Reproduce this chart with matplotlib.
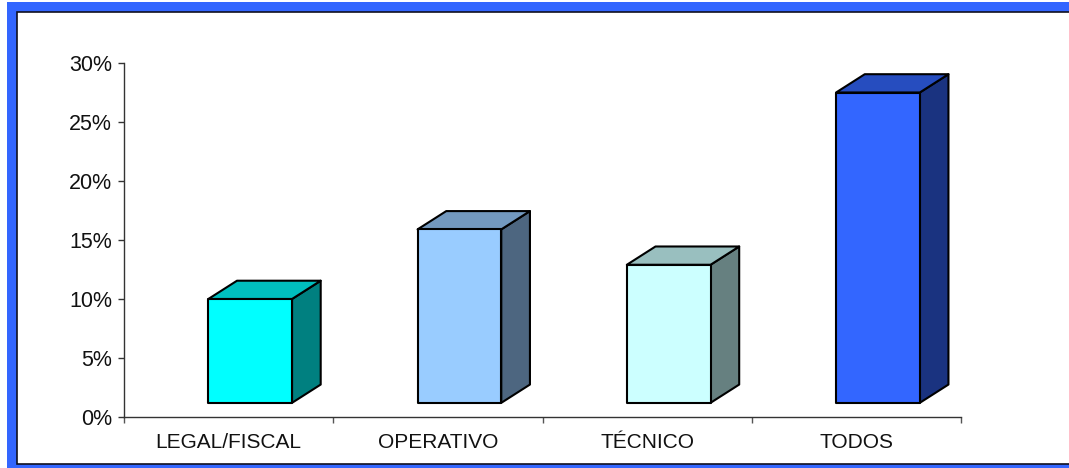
import matplotlib
matplotlib.use("Agg")
import matplotlib.pyplot as plt
from matplotlib.patches import Polygon, Rectangle

categories = ["LEGAL/FISCAL", "OPERATIVO", "TÉCNICO", "TODOS"]
values = [10.0, 15.9, 12.9, 27.5]
front_colors = ["#00FFFF", "#99CCFF", "#CCFFFF", "#3366FF"]
y_ticks = [0, 5, 10, 15, 20, 25, 30]

W, H = 1069, 468
FRAME_BLUE = "#3366FF"
BASE = 1.2          # the 3D floor sits a little above the axis
BAR_WIDTH = 0.4
BAR_SHIFT = 0.103
DEPTH_X = 0.137
DEPTH_Y = 1.55


def shade(color, k):
    rgb = matplotlib.colors.to_rgb(color)
    return tuple(c * k for c in rgb)


plt.rcParams["font.family"] = ["Liberation Sans", "DejaVu Sans"]

fig = plt.figure(figsize=(W / 100, H / 100), dpi=100, facecolor="white")

# blue frame, in pixels from the top left
bg = fig.add_axes([0, 0, 1, 1], zorder=0)
bg.set_xlim(0, W)
bg.set_ylim(H, 0)
bg.axis("off")
bg.add_patch(Rectangle((7, 2), W, H, fc=FRAME_BLUE, ec="none"))
# white panel runs off the right edge, the reference has no band there
bg.add_patch(Rectangle((17, 11.5), W, 452, fc="white", ec="#101020", lw=1.2))

# plot area: x 124-961, y 63-417 px
ax = fig.add_axes([124 / W, 1 - 417 / H, (961 - 124) / W, (417 - 63) / H], zorder=1)
ax.patch.set_alpha(0)
ax.set_xlim(-0.5, len(categories) - 0.5)
ax.set_ylim(0, 30)

for i, (val, col) in enumerate(zip(values, front_colors)):
    x0 = i + BAR_SHIFT - BAR_WIDTH / 2
    x1 = i + BAR_SHIFT + BAR_WIDTH / 2
    front = [(x0, BASE), (x1, BASE), (x1, val), (x0, val)]
    top = [(x0, val), (x1, val), (x1 + DEPTH_X, val + DEPTH_Y), (x0 + DEPTH_X, val + DEPTH_Y)]
    side = [(x1, BASE), (x1 + DEPTH_X, BASE + DEPTH_Y), (x1 + DEPTH_X, val + DEPTH_Y), (x1, val)]
    for pts, fc in [(side, shade(col, 0.5)), (top, shade(col, 0.75)), (front, col)]:
        ax.add_patch(Polygon(pts, closed=True, fc=fc, ec="black", lw=1.5,
                             joinstyle="round", clip_on=False))

for s in ["top", "right"]:
    ax.spines[s].set_visible(False)
for s in ["left", "bottom"]:
    ax.spines[s].set_color("#333333")
    ax.spines[s].set_linewidth(1.0)

ax.set_yticks(y_ticks)
ax.set_yticklabels([f"{t}%" for t in y_ticks], fontsize=15.5, color="#111111")
ax.tick_params(axis="y", length=4.5, width=1.0, color="#333333", pad=4)

# ticks fall between categories, labels sit in the middle
ax.set_xticks([i - 0.5 for i in range(len(categories) + 1)])
ax.set_xticklabels([])
ax.set_xticks(range(len(categories)), labels=categories, minor=True)
ax.tick_params(axis="x", which="major", length=4.5, width=1.0, color="#555555")
ax.tick_params(axis="x", which="minor", length=0, pad=11.5, labelsize=15, labelcolor="#111111")

fig.savefig("out.png", dpi=100)
